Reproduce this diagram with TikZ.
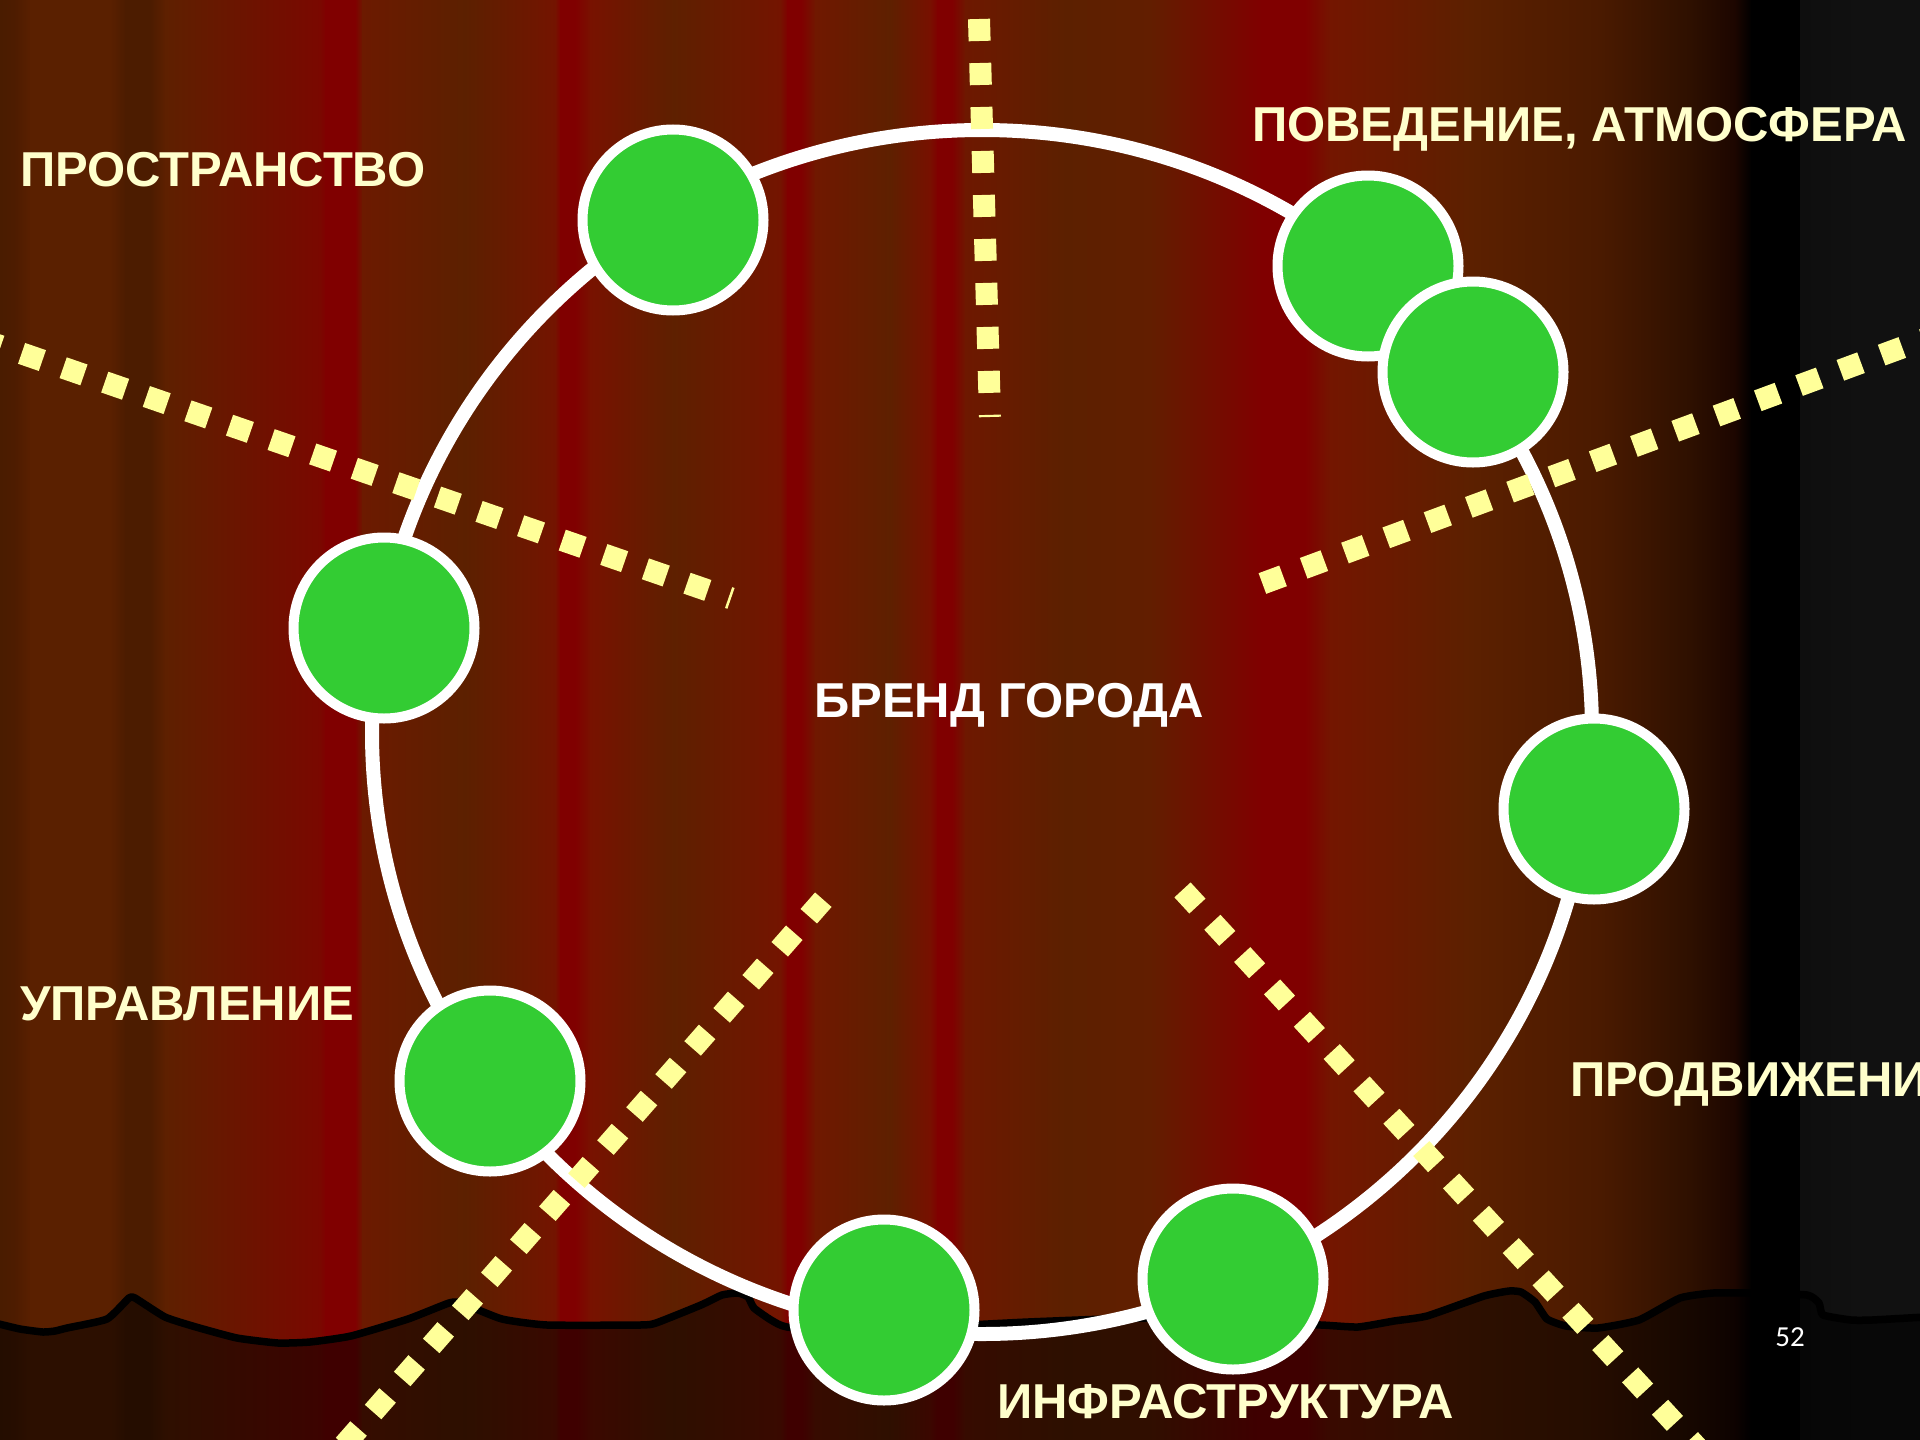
\documentclass[tikz,border=0pt]{standalone}
\usepackage{fontspec}
\setmainfont{Liberation Sans}
\newfontfamily\numfont{Carlito}
\definecolor{ballgreen}{HTML}{33CC33}
\definecolor{cream}{HTML}{FFFFCC}
\definecolor{dotyellow}{HTML}{FFFF99}
\begin{document}
\begin{tikzpicture}[x=1pt,y=-1pt,
  ball/.style={circle, draw=white, line width=10pt, fill=ballgreen, minimum size=181pt, inner sep=0pt},
  dotline/.style={draw=dotyellow, line width=22pt, dash pattern=on 22pt off 22pt},
  lbl/.style={text=cream, font=\bfseries\fontsize{49}{58}\selectfont, anchor=base west, inner sep=0pt},
  groundline/.style={draw=black, line width=7.5pt, line join=round}
]
\useasboundingbox (0,0) rectangle (1920,1440);
\begin{scope}
\clip (0,0) rectangle (1920,1440);
% background stripes
\foreach \xa/\ca/\xb/\cb in {
0/4A1C00/15/4E1C00, 15/4E1C00/30/5A2000, 30/5A2000/110/5A2000,
110/5A2000/125/4C1C00, 125/4C1C00/150/4C1C00, 150/4C1C00/165/5E2000,
165/5E2000/320/7A0800, 320/7A0800/325/800000, 325/800000/355/800000,
355/800000/362/6C1A00, 362/6C1A00/465/5C2000, 465/5C2000/555/741400,
555/741400/560/800000, 560/800000/575/800000, 575/800000/590/781200,
590/781200/673/5E2000, 673/5E2000/780/741400, 780/741400/787/800000,
787/800000/801/800000, 801/800000/815/701800, 815/701800/890/5E2000,
890/5E2000/930/781000, 930/781000/937/800000, 937/800000/952/800000,
952/800000/965/6E1800, 965/6E1800/1065/5C2000, 1065/5C2000/1150/621E00,
1150/621E00/1261/800000, 1261/800000/1305/800000, 1305/800000/1330/741600,
1330/741600/1470/5C2000, 1470/5C2000/1600/4A1A00, 1600/4A1A00/1690/2E1000,
1690/2E1000/1735/1C0600, 1735/1C0600/1751/000000, 1751/000000/1800/000000,
1800/0E0E0E/1860/111111, 1860/111111/1920/111111}
{
  \definecolor{cA}{HTML}{\ca}\definecolor{cB}{HTML}{\cb}
  \shade[left color=cA, right color=cB] (\xa,-2) rectangle ({\xb+1},1442);
}
% ground
\def\groundpts{(-5,1323) (20,1329) (43,1332) (55,1331) (67,1328) (107,1319) (129,1298) (135,1298) (165,1317) (196,1327) (237,1338) (278,1343) (310,1342) (351,1336) (408,1319) (449,1303) (461,1303) (502,1319) (547,1325) (640,1325) (656,1323) (701,1305) (722,1295) (738,1293) (748,1297) (754,1308) (771,1320) (787,1327) (850,1331) (950,1326) (1028,1322) (1142,1318) (1230,1322) (1321,1325) (1358,1327) (1394,1321) (1427,1316) (1484,1296) (1509,1291) (1521,1292) (1535,1302) (1547,1319) (1566,1326) (1598,1328) (1639,1320) (1680,1298) (1713,1293) (1753,1293) (1807,1295) (1819,1303) (1823,1315) (1851,1320) (1872,1320) (1925,1317)}
\fill[black, opacity=0.5] plot[smooth, tension=0.3] coordinates {\groundpts} -- (1925,1445) -- (-5,1445) -- cycle;
\draw[groundline] plot[smooth, tension=0.3] coordinates {\groundpts};

% ring
\draw[white, line width=14pt] (982,732) ellipse [x radius=610, y radius=602];

% dotted lines
\coordinate (a1) at (979,19);    \coordinate (a2) at (990,417);
\coordinate (b1) at (-20,339);   \coordinate (b2) at (731,598.4);
\coordinate (c1) at (1262.4,583.5); \coordinate (c2) at (1955.6,327.8);
\coordinate (d1) at (823.3,899.7); \coordinate (d2) at (330.9,1460);
\coordinate (e1) at (1182.5,889.9); \coordinate (e2) at (1708.7,1460);
\draw[dotline] (a1) -- (a2);
\draw[dotline] (b1) -- (b2);
\draw[dotline] (c1) -- (c2);
\draw[dotline] (d1) -- (d2);
\draw[dotline] (e1) -- (e2);

% balls
\node[ball] (n1) at (673,220) {};
\node[ball] (n2) at (1368,266) {};
\node[ball] (n3) at (1473,372) {};
\node[ball] (n4) at (384,628) {};
\node[ball] (n5) at (1594,809) {};
\node[ball] (n6) at (490,1081) {};
\node[ball] (n7) at (1233,1279) {};
\node[ball] (n8) at (884,1310) {};

% labels
\node[lbl] (l1) at (20,186) {ПРОСТРАНСТВО};
\node[lbl] (l2) at (1252,141) {ПОВЕДЕНИЕ, АТМОСФЕРА};
\node[lbl] (l3) at (20,1020) {УПРАВЛЕНИЕ};
\node[lbl] (l4) at (1570,1096) {ПРОДВИЖЕНИЕ};
\node[lbl] (l5) at (997,1418) {ИНФРАСТРУКТУРА};
\node[lbl, text=white] (l6) at (814,717) {БРЕНД ГОРОДА};
\node[text=white, font=\numfont\fontsize{29}{34}\selectfont, inner sep=0pt] (pg) at (1790,1337) {52};
\end{scope}
\end{tikzpicture}
\end{document}
